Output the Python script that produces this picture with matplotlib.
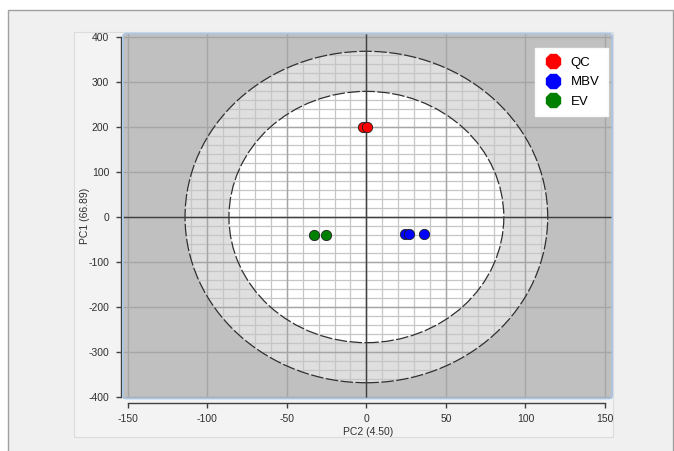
import numpy as np
import matplotlib
matplotlib.use("Agg")
import matplotlib.pyplot as plt
from matplotlib.patches import Ellipse, Rectangle, FancyBboxPatch
from matplotlib.lines import Line2D

plt.rcParams["axes.unicode_minus"] = False
plt.rcParams["font.family"] = ["Liberation Sans", "DejaVu Sans"]

# ---- data ----
groups = ["QC", "MBV", "EV"]
colors = ["#ff0000", "#0000ff", "#008000"]
qc_x = [-2.4, 0.1]
qc_y = [200, 200]
mbv_x = [24.2, 26.6, 36.3]
mbv_y = [-38, -38, -38]
ev_x = [-32.8, -25.5]
ev_y = [-41, -41]
xticks = [-150, -100, -50, 0, 50, 100, 150]
yticks = [-400, -300, -200, -100, 0, 100, 200, 300, 400]
outer_axes = (114, 368)   # semi-axes of 99% ellipse
inner_axes = (86.4, 279)  # semi-axes of 95% ellipse
xlabel = "PC2 (4.50)"
ylabel = "PC1 (66.89)"

W, H = 674, 451
fig = plt.figure(figsize=(W / 100, H / 100), dpi=100)
fig.patch.set_facecolor("white")

def px(x0, y0, x1, y1):
    return (x0 / W, 1 - y1 / H, (x1 - x0) / W, (y1 - y0) / H)

# outer panels
l, b, w, h = px(8, 9.5, 673, 452)
fig.patches.append(Rectangle((l, b), w, h, transform=fig.transFigure,
                             facecolor="#f0f0f0", edgecolor="#a0a0a0", lw=1, zorder=-10))
l, b, w, h = px(74, 32.3, 613.3, 436.7)
fig.patches.append(Rectangle((l, b), w, h, transform=fig.transFigure,
                             facecolor="#f3f3f3", edgecolor="#dcdcdc", lw=0.8, zorder=-9))

ax = fig.add_axes(px(123, 33.5, 612.3, 398.5))
ax.set_zorder(1)
ax.set_xlim(-153, 154.6)
ax.set_ylim(-403, 407.5)
ax.set_facecolor("#c0c0c0")

# ellipses fills
outer = Ellipse((0, 0), 2 * outer_axes[0], 2 * outer_axes[1], facecolor="#dfdfdf",
                edgecolor="none", zorder=1)
inner = Ellipse((0, 0), 2 * inner_axes[0], 2 * inner_axes[1], facecolor="white",
                edgecolor="none", zorder=1.1)
ax.add_patch(outer)
ax.add_patch(inner)

# minor grid clipped to outer ellipse
for xv in np.arange(-150, 151, 10):
    ln = ax.axvline(xv, color="#c6c6c6", lw=0.9, zorder=1.5)
    ln.set_clip_path(outer)
for yv in np.arange(-400, 401, 20):
    ln = ax.axhline(yv, color="#c6c6c6", lw=0.9, zorder=1.5)
    ln.set_clip_path(outer)

# major grid
for xv in xticks:
    ax.axvline(xv, color="#a6a6a6", lw=1.0, zorder=1.7)
for yv in yticks:
    ax.axhline(yv, color="#a6a6a6", lw=1.0, zorder=1.7)

# ellipse outlines
for (a, bb) in (outer_axes, inner_axes):
    ax.add_patch(Ellipse((0, 0), 2 * a, 2 * bb, facecolor="none", edgecolor="#303030",
                         lw=0.9, ls=(0, (10, 2)), zorder=2))

# zero axes
ax.axvline(0, color="#404040", lw=1.0, zorder=2.5)
ax.axhline(0, color="#404040", lw=1.0, zorder=2.5)

# points
for xs, ys, c in zip([qc_x, mbv_x, ev_x], [qc_y, mbv_y, ev_y], colors):
    ax.scatter(xs, ys, s=55, color=c, edgecolors="#202020", linewidths=0.6, zorder=5)

# spines / ticks
for s in ["top", "right"]:
    ax.spines[s].set_visible(False)
ax.spines["left"].set_position(("outward", 1.5))
ax.spines["bottom"].set_position(("outward", 3.5))
ax.spines["left"].set_bounds(-400, 400)
ax.spines["bottom"].set_bounds(-150, 150)
for s in ["left", "bottom"]:
    ax.spines[s].set_color("#404040")
    ax.spines[s].set_linewidth(1.0)
ax.set_xticks(xticks)
ax.set_yticks(yticks)
ax.tick_params(direction="out", length=3.5, width=1, color="#404040",
               labelsize=7.5, labelcolor="#303030")
ax.tick_params(axis="y", pad=5)
ax.tick_params(axis="x", pad=4)
ax.set_xlabel(xlabel, fontsize=7.5, color="#303030", labelpad=2)
ax.set_ylabel(ylabel, fontsize=7.5, color="#303030", labelpad=-1)

# blue rounded border around plot area
ax.add_patch(FancyBboxPatch((0, 0), 1, 1, boxstyle="round,pad=0.0,rounding_size=0.008",
                            transform=ax.transAxes, facecolor="none", edgecolor="#a9c8e6",
                            lw=1.2, clip_on=False, zorder=6))

# legend
handles = [Line2D([], [], marker="8", ls="none", markersize=11.5, color=c, markeredgecolor=c)
           for c in colors]
leg = ax.legend(handles, groups, loc="upper right", bbox_to_anchor=(0.991, 0.9595),
                fontsize=9.5, frameon=True, fancybox=False, framealpha=1,
                handletextpad=0.6, borderpad=0.62, labelspacing=0.55, handlelength=1.5,
                borderaxespad=0)
leg.get_frame().set_edgecolor("#f8f8f8")
leg.get_frame().set_facecolor("white")
leg.set_zorder(7)

fig.savefig("out.png", dpi=100, facecolor=fig.get_facecolor())
